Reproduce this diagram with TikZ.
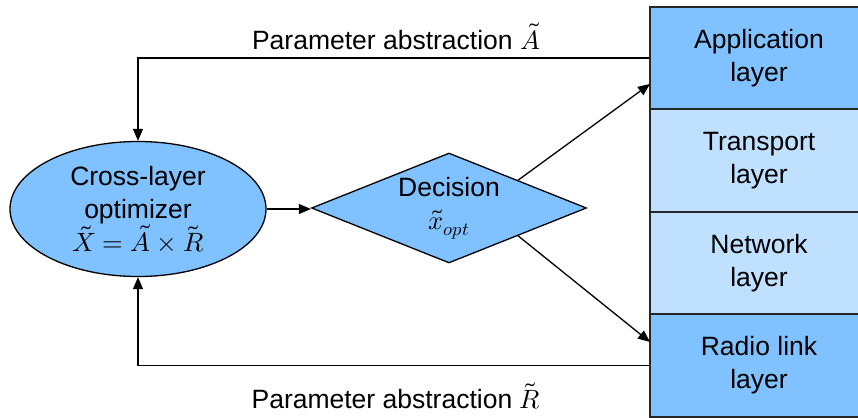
\documentclass[tikz,border=0pt]{standalone}
\usepackage{fontspec}
\usepackage{unicode-math}
\setmainfont{Liberation Sans}
\setmathfont{Latin Modern Math}
\usetikzlibrary{shapes.geometric,arrows.meta}
\definecolor{bluedark}{RGB}{128,193,255}
\definecolor{bluelight}{RGB}{191,224,255}
\begin{document}
\begin{tikzpicture}[x=1pt,y=-1pt,
  lbl/.style={font=\fontsize{26.5}{33}\selectfont, align=center, inner sep=0pt},
  layerbox/.style={lbl, draw=black!85, line width=1.6pt,
    minimum width=218pt, minimum height=102.5pt},
  optbox/.style={lbl, ellipse, draw=black, line width=1.3pt, fill=bluedark,
    minimum width=256pt, minimum height=135pt},
  decbox/.style={lbl, diamond, aspect=2.6, draw=black, line width=1.3pt, fill=bluedark,
    minimum width=275pt, minimum height=110pt},
  link/.style={line width=1.3pt, -{Triangle[length=12pt,width=10pt]}}]
\useasboundingbox (0,0) rectangle (858,417);

% protocol stack
\node[layerbox, fill=bluedark]  (app)   at (759,58)    {Application\\layer};
\node[layerbox, fill=bluelight] (trans) at (759,160.5) {Transport\\layer};
\node[layerbox, fill=bluelight] (net)   at (759,263)   {Network\\layer};
\node[layerbox, fill=bluedark]  (radio) at (759,365.5) {Radio link\\layer};

% optimizer and decision
\node[optbox] (opt) at (138,209) {Cross-layer\\optimizer\\$\tilde{X}=\tilde{A}\times\tilde{R}$};
\node[decbox] (dec) at (449,208) {Decision\\$\tilde{x}_{opt}$};

% feedback labels
\node[lbl] (labA) at (396,36)  {Parameter abstraction $\tilde{A}$};
\node[lbl] (labR) at (396,396) {Parameter abstraction $\tilde{R}$};

% connectors
\coordinate (apptip)   at (650,84);
\coordinate (radiotip) at (650,342);
\draw[link] (opt.east) -- (opt.east -| dec.west);
\draw[link] (app.west) -| (opt.north);
\draw[link] (radio.west) -| (opt.south);
\draw[link] (dec.north east) -- (apptip);
\draw[link] (dec.south east) -- (radiotip);
\end{tikzpicture}
\end{document}
